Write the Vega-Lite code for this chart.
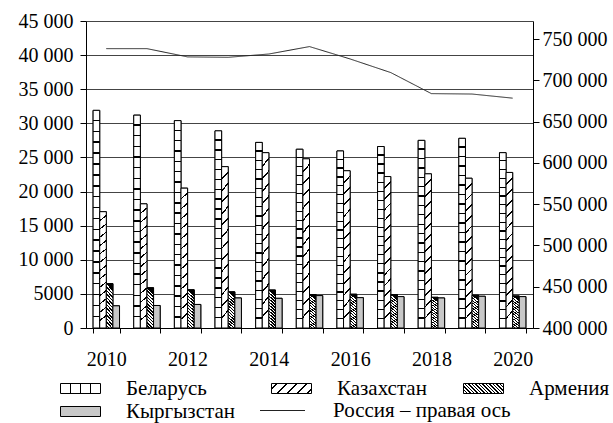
{
  "$schema": "https://vega.github.io/schema/vega-lite/v6.json",
  "width": 447,
  "height": 307,
  "autosize": {"type": "none"},
  "padding": {"left": 86, "top": 21, "right": 80, "bottom": 95},
  "background": "white",
  "params": [
    {"name": "gBel", "value": {"gradient": "linear", "x1": 0, "y1": 0, "x2": 1, "y2": 0, "stops": [
      {"offset": 0, "color": "#fff"}, {"offset": 0.235, "color": "#fff"}, {"offset": 0.235, "color": "#000"}, {"offset": 0.265, "color": "#000"}, {"offset": 0.265, "color": "#fff"},
      {"offset": 0.485, "color": "#fff"}, {"offset": 0.485, "color": "#000"}, {"offset": 0.515, "color": "#000"}, {"offset": 0.515, "color": "#fff"},
      {"offset": 0.735, "color": "#fff"}, {"offset": 0.735, "color": "#000"}, {"offset": 0.765, "color": "#000"}, {"offset": 0.765, "color": "#fff"},
      {"offset": 1, "color": "#fff"}
    ]}},
    {"name": "gKaz", "value": {"gradient": "linear", "x1": 0, "y1": 0, "x2": 1.176, "y2": 0.294, "stops": [
      {"offset": 0, "color": "#fff"},
      {"offset": 0.1, "color": "#fff"}, {"offset": 0.1, "color": "#000"}, {"offset": 0.13, "color": "#000"}, {"offset": 0.13, "color": "#fff"},
      {"offset": 0.3, "color": "#fff"}, {"offset": 0.3, "color": "#000"}, {"offset": 0.33, "color": "#000"}, {"offset": 0.33, "color": "#fff"},
      {"offset": 0.5, "color": "#fff"}, {"offset": 0.5, "color": "#000"}, {"offset": 0.53, "color": "#000"}, {"offset": 0.53, "color": "#fff"},
      {"offset": 0.7, "color": "#fff"}, {"offset": 0.7, "color": "#000"}, {"offset": 0.73, "color": "#000"}, {"offset": 0.73, "color": "#fff"},
      {"offset": 0.9, "color": "#fff"}, {"offset": 0.9, "color": "#000"}, {"offset": 0.93, "color": "#000"}, {"offset": 0.93, "color": "#fff"},
      {"offset": 1, "color": "#fff"}
    ]}},
    {"name": "gArm", "value": {"gradient": "linear", "x1": 0, "y1": 1, "x2": 1.176, "y2": 0.706, "stops": [
      {"offset": 0, "color": "#000"}, {"offset": 0.028, "color": "#000"}, {"offset": 0.028, "color": "#fff"},
      {"offset": 0.07, "color": "#fff"}, {"offset": 0.07, "color": "#000"}, {"offset": 0.098, "color": "#000"}, {"offset": 0.098, "color": "#fff"},
      {"offset": 0.14, "color": "#fff"}, {"offset": 0.14, "color": "#000"}, {"offset": 0.168, "color": "#000"}, {"offset": 0.168, "color": "#fff"},
      {"offset": 0.21, "color": "#fff"}, {"offset": 0.21, "color": "#000"}, {"offset": 0.238, "color": "#000"}, {"offset": 0.238, "color": "#fff"},
      {"offset": 0.28, "color": "#fff"}, {"offset": 0.28, "color": "#000"}, {"offset": 0.308, "color": "#000"}, {"offset": 0.308, "color": "#fff"},
      {"offset": 0.35, "color": "#fff"}, {"offset": 0.35, "color": "#000"}, {"offset": 0.378, "color": "#000"}, {"offset": 0.378, "color": "#fff"},
      {"offset": 0.42, "color": "#fff"}, {"offset": 0.42, "color": "#000"}, {"offset": 0.448, "color": "#000"}, {"offset": 0.448, "color": "#fff"},
      {"offset": 0.49, "color": "#fff"}, {"offset": 0.49, "color": "#000"}, {"offset": 0.518, "color": "#000"}, {"offset": 0.518, "color": "#fff"},
      {"offset": 0.56, "color": "#fff"}, {"offset": 0.56, "color": "#000"}, {"offset": 0.588, "color": "#000"}, {"offset": 0.588, "color": "#fff"},
      {"offset": 0.63, "color": "#fff"}, {"offset": 0.63, "color": "#000"}, {"offset": 0.658, "color": "#000"}, {"offset": 0.658, "color": "#fff"},
      {"offset": 0.7, "color": "#fff"}, {"offset": 0.7, "color": "#000"}, {"offset": 0.728, "color": "#000"}, {"offset": 0.728, "color": "#fff"},
      {"offset": 0.77, "color": "#fff"}, {"offset": 0.77, "color": "#000"}, {"offset": 0.798, "color": "#000"}, {"offset": 0.798, "color": "#fff"},
      {"offset": 0.84, "color": "#fff"}, {"offset": 0.84, "color": "#000"}, {"offset": 0.868, "color": "#000"}, {"offset": 0.868, "color": "#fff"},
      {"offset": 0.91, "color": "#fff"}, {"offset": 0.91, "color": "#000"}, {"offset": 0.938, "color": "#000"}, {"offset": 0.938, "color": "#fff"},
      {"offset": 0.98, "color": "#fff"}, {"offset": 0.98, "color": "#000"}, {"offset": 1, "color": "#000"}
    ]}}
  ],
  "config": {
    "view": {"stroke": null},
    "font": "Liberation Serif",
    "axis": {"labelFont": "Liberation Serif", "labelFontSize": 20, "labelColor": "black", "domainColor": "black", "tickColor": "black", "title": null}
  },
  "datasets": {
    "bars": [
      {"year": 2010, "country": "Беларусь", "value": 31900},
      {"year": 2011, "country": "Беларусь", "value": 31200},
      {"year": 2012, "country": "Беларусь", "value": 30400},
      {"year": 2013, "country": "Беларусь", "value": 28900},
      {"year": 2014, "country": "Беларусь", "value": 27200},
      {"year": 2015, "country": "Беларусь", "value": 26200},
      {"year": 2016, "country": "Беларусь", "value": 25950},
      {"year": 2017, "country": "Беларусь", "value": 26600},
      {"year": 2018, "country": "Беларусь", "value": 27500},
      {"year": 2019, "country": "Беларусь", "value": 27800},
      {"year": 2020, "country": "Беларусь", "value": 25700},
      {"year": 2010, "country": "Казахстан", "value": 17050},
      {"year": 2011, "country": "Казахстан", "value": 18200},
      {"year": 2012, "country": "Казахстан", "value": 20500},
      {"year": 2013, "country": "Казахстан", "value": 23650},
      {"year": 2014, "country": "Казахстан", "value": 25700},
      {"year": 2015, "country": "Казахстан", "value": 24800},
      {"year": 2016, "country": "Казахстан", "value": 23050},
      {"year": 2017, "country": "Казахстан", "value": 22200},
      {"year": 2018, "country": "Казахстан", "value": 22600},
      {"year": 2019, "country": "Казахстан", "value": 21950},
      {"year": 2020, "country": "Казахстан", "value": 22800},
      {"year": 2010, "country": "Армения", "value": 6500},
      {"year": 2011, "country": "Армения", "value": 5900},
      {"year": 2012, "country": "Армения", "value": 5600},
      {"year": 2013, "country": "Армения", "value": 5300},
      {"year": 2014, "country": "Армения", "value": 5570},
      {"year": 2015, "country": "Армения", "value": 4900},
      {"year": 2016, "country": "Армения", "value": 4950},
      {"year": 2017, "country": "Армения", "value": 4900},
      {"year": 2018, "country": "Армения", "value": 4500},
      {"year": 2019, "country": "Армения", "value": 4800},
      {"year": 2020, "country": "Армения", "value": 4700},
      {"year": 2010, "country": "Кыргызстан", "value": 3250},
      {"year": 2011, "country": "Кыргызстан", "value": 3300},
      {"year": 2012, "country": "Кыргызстан", "value": 3450},
      {"year": 2013, "country": "Кыргызстан", "value": 4400},
      {"year": 2014, "country": "Кыргызстан", "value": 4350},
      {"year": 2015, "country": "Кыргызстан", "value": 4750},
      {"year": 2016, "country": "Кыргызстан", "value": 4450},
      {"year": 2017, "country": "Кыргызстан", "value": 4600},
      {"year": 2018, "country": "Кыргызстан", "value": 4400},
      {"year": 2019, "country": "Кыргызстан", "value": 4650},
      {"year": 2020, "country": "Кыргызстан", "value": 4600}
    ],
    "russia": [
      {"year": 2010, "series": "Россия – правая ось", "value": 738500},
      {"year": 2011, "series": "Россия – правая ось", "value": 738500},
      {"year": 2012, "series": "Россия – правая ось", "value": 728500},
      {"year": 2013, "series": "Россия – правая ось", "value": 728000},
      {"year": 2014, "series": "Россия – правая ось", "value": 732000},
      {"year": 2015, "series": "Россия – правая ось", "value": 741000},
      {"year": 2016, "series": "Россия – правая ось", "value": 726000},
      {"year": 2017, "series": "Россия – правая ось", "value": 709500},
      {"year": 2018, "series": "Россия – правая ось", "value": 684000},
      {"year": 2019, "series": "Россия – правая ось", "value": 683500},
      {"year": 2020, "series": "Россия – правая ось", "value": 678500}
    ]
  },
  "layer": [
    {
      "data": {"name": "bars"},
      "mark": {"type": "bar", "stroke": "black", "strokeWidth": 1},
      "encoding": {
        "x": {
          "field": "year", "type": "ordinal",
          "scale": {"paddingInner": 0.35, "paddingOuter": 0.175},
          "axis": {"labelAngle": 0, "labelExpr": "datum.value % 2 === 0 ? datum.label : ''", "tickBand": "extent", "tickSize": 5, "labelPadding": 16, "domainWidth": 1, "grid": false}
        },
        "xOffset": {"field": "country", "type": "nominal", "scale": {"domain": ["Беларусь", "Казахстан", "Армения", "Кыргызстан"], "paddingInner": 0}},
        "y": {
          "field": "value", "type": "quantitative",
          "scale": {"domain": [0, 45000], "nice": false},
          "axis": {"values": [0, 5000, 10000, 15000, 20000, 25000, 30000, 35000, 40000, 45000], "grid": true, "gridColor": "#444", "gridWidth": 1, "tickSize": 6, "labelPadding": 7, "domainWidth": 1, "labelExpr": "datum.value >= 10000 ? replace(format(datum.value, ','), ',', ' ') : format(datum.value, 'd')"}
        },
        "fill": {
          "field": "country", "type": "nominal",
          "scale": {
            "domain": ["Беларусь", "Казахстан", "Армения", "Кыргызстан"],
            "range": [{"expr": "gBel"}, {"expr": "gKaz"}, {"expr": "gArm"}, "#c8c8c8"]
          },
          "legend": {
            "orient": "none", "legendX": -16, "legendY": 357, "padding": 0,
            "direction": "horizontal", "columns": 3, "gridAlign": "none", "columnPadding": 34, "rowPadding": 1,
            "title": null,
            "symbolSize": 400, "symbolType": "M-2,-0.5H2V0.5H-2Z",
            "symbolStrokeColor": "black", "symbolStrokeWidth": 1, "symbolOpacity": 1,
            "labelFont": "Liberation Serif", "labelFontSize": 21, "labelColor": "black", "labelOffset": 35, "labelLimit": 300
          }
        }
      }
    },
    {
      "data": {"name": "bars"},
      "mark": {"type": "bar", "stroke": "black", "strokeWidth": 1},
      "encoding": {
        "x": {"field": "year", "type": "ordinal"},
        "xOffset": {"field": "country", "type": "nominal"},
        "y": {"field": "value", "type": "quantitative", "scale": {"domain": [0, 45000], "nice": false}, "axis": null},
        "fill": {
          "condition": [
            {"test": "datum.country === 'Беларусь'", "value": {"gradient": "linear", "x1": 0, "y1": 0, "x2": 0, "y2": 1, "stops": [
              {"offset": 0, "color": "#fff"},
              {"offset": 0.043, "color": "#fff"}, {"offset": 0.043, "color": "#000"}, {"offset": 0.05, "color": "#000"}, {"offset": 0.05, "color": "#fff"},
              {"offset": 0.093, "color": "#fff"}, {"offset": 0.093, "color": "#000"}, {"offset": 0.1, "color": "#000"}, {"offset": 0.1, "color": "#fff"},
              {"offset": 0.143, "color": "#fff"}, {"offset": 0.143, "color": "#000"}, {"offset": 0.15, "color": "#000"}, {"offset": 0.15, "color": "#fff"},
              {"offset": 0.193, "color": "#fff"}, {"offset": 0.193, "color": "#000"}, {"offset": 0.2, "color": "#000"}, {"offset": 0.2, "color": "#fff"},
              {"offset": 0.243, "color": "#fff"}, {"offset": 0.243, "color": "#000"}, {"offset": 0.25, "color": "#000"}, {"offset": 0.25, "color": "#fff"},
              {"offset": 0.293, "color": "#fff"}, {"offset": 0.293, "color": "#000"}, {"offset": 0.3, "color": "#000"}, {"offset": 0.3, "color": "#fff"},
              {"offset": 0.343, "color": "#fff"}, {"offset": 0.343, "color": "#000"}, {"offset": 0.35, "color": "#000"}, {"offset": 0.35, "color": "#fff"},
              {"offset": 0.393, "color": "#fff"}, {"offset": 0.393, "color": "#000"}, {"offset": 0.4, "color": "#000"}, {"offset": 0.4, "color": "#fff"},
              {"offset": 0.443, "color": "#fff"}, {"offset": 0.443, "color": "#000"}, {"offset": 0.45, "color": "#000"}, {"offset": 0.45, "color": "#fff"},
              {"offset": 0.493, "color": "#fff"}, {"offset": 0.493, "color": "#000"}, {"offset": 0.5, "color": "#000"}, {"offset": 0.5, "color": "#fff"},
              {"offset": 0.543, "color": "#fff"}, {"offset": 0.543, "color": "#000"}, {"offset": 0.55, "color": "#000"}, {"offset": 0.55, "color": "#fff"},
              {"offset": 0.593, "color": "#fff"}, {"offset": 0.593, "color": "#000"}, {"offset": 0.6, "color": "#000"}, {"offset": 0.6, "color": "#fff"},
              {"offset": 0.643, "color": "#fff"}, {"offset": 0.643, "color": "#000"}, {"offset": 0.65, "color": "#000"}, {"offset": 0.65, "color": "#fff"},
              {"offset": 0.693, "color": "#fff"}, {"offset": 0.693, "color": "#000"}, {"offset": 0.7, "color": "#000"}, {"offset": 0.7, "color": "#fff"},
              {"offset": 0.743, "color": "#fff"}, {"offset": 0.743, "color": "#000"}, {"offset": 0.75, "color": "#000"}, {"offset": 0.75, "color": "#fff"},
              {"offset": 0.793, "color": "#fff"}, {"offset": 0.793, "color": "#000"}, {"offset": 0.8, "color": "#000"}, {"offset": 0.8, "color": "#fff"},
              {"offset": 0.843, "color": "#fff"}, {"offset": 0.843, "color": "#000"}, {"offset": 0.85, "color": "#000"}, {"offset": 0.85, "color": "#fff"},
              {"offset": 0.893, "color": "#fff"}, {"offset": 0.893, "color": "#000"}, {"offset": 0.9, "color": "#000"}, {"offset": 0.9, "color": "#fff"},
              {"offset": 0.943, "color": "#fff"}, {"offset": 0.943, "color": "#000"}, {"offset": 0.95, "color": "#000"}, {"offset": 0.95, "color": "#fff"},
              {"offset": 1, "color": "#fff"}
            ]}},
            {"test": "datum.country === 'Казахстан'", "value": {"gradient": "linear", "x1": 0, "y1": 0, "x2": 0.045, "y2": 1, "stops": [
              {"offset": 0, "color": "#fff"},
              {"offset": 0.0714, "color": "#fff"}, {"offset": 0.0714, "color": "#000"}, {"offset": 0.0834, "color": "#000"}, {"offset": 0.0834, "color": "#fff"},
              {"offset": 0.1429, "color": "#fff"}, {"offset": 0.1429, "color": "#000"}, {"offset": 0.1549, "color": "#000"}, {"offset": 0.1549, "color": "#fff"},
              {"offset": 0.2143, "color": "#fff"}, {"offset": 0.2143, "color": "#000"}, {"offset": 0.2263, "color": "#000"}, {"offset": 0.2263, "color": "#fff"},
              {"offset": 0.2857, "color": "#fff"}, {"offset": 0.2857, "color": "#000"}, {"offset": 0.2977, "color": "#000"}, {"offset": 0.2977, "color": "#fff"},
              {"offset": 0.3571, "color": "#fff"}, {"offset": 0.3571, "color": "#000"}, {"offset": 0.3691, "color": "#000"}, {"offset": 0.3691, "color": "#fff"},
              {"offset": 0.4286, "color": "#fff"}, {"offset": 0.4286, "color": "#000"}, {"offset": 0.4406, "color": "#000"}, {"offset": 0.4406, "color": "#fff"},
              {"offset": 0.5, "color": "#fff"}, {"offset": 0.5, "color": "#000"}, {"offset": 0.512, "color": "#000"}, {"offset": 0.512, "color": "#fff"},
              {"offset": 0.5714, "color": "#fff"}, {"offset": 0.5714, "color": "#000"}, {"offset": 0.5834, "color": "#000"}, {"offset": 0.5834, "color": "#fff"},
              {"offset": 0.6429, "color": "#fff"}, {"offset": 0.6429, "color": "#000"}, {"offset": 0.6549, "color": "#000"}, {"offset": 0.6549, "color": "#fff"},
              {"offset": 0.7143, "color": "#fff"}, {"offset": 0.7143, "color": "#000"}, {"offset": 0.7263, "color": "#000"}, {"offset": 0.7263, "color": "#fff"},
              {"offset": 0.7857, "color": "#fff"}, {"offset": 0.7857, "color": "#000"}, {"offset": 0.7977, "color": "#000"}, {"offset": 0.7977, "color": "#fff"},
              {"offset": 0.8571, "color": "#fff"}, {"offset": 0.8571, "color": "#000"}, {"offset": 0.8691, "color": "#000"}, {"offset": 0.8691, "color": "#fff"},
              {"offset": 0.9286, "color": "#fff"}, {"offset": 0.9286, "color": "#000"}, {"offset": 0.9406, "color": "#000"}, {"offset": 0.9406, "color": "#fff"},
              {"offset": 1, "color": "#fff"}
            ]}},
            {"test": "datum.country === 'Армения'", "value": {"gradient": "linear", "x1": 0.16, "y1": 0, "x2": 0, "y2": 1, "stops": [
              {"offset": 0, "color": "#000"}, {"offset": 0.035, "color": "#000"}, {"offset": 0.035, "color": "#fff"},
              {"offset": 0.0769, "color": "#fff"}, {"offset": 0.0769, "color": "#000"}, {"offset": 0.1119, "color": "#000"}, {"offset": 0.1119, "color": "#fff"},
              {"offset": 0.1538, "color": "#fff"}, {"offset": 0.1538, "color": "#000"}, {"offset": 0.1888, "color": "#000"}, {"offset": 0.1888, "color": "#fff"},
              {"offset": 0.2308, "color": "#fff"}, {"offset": 0.2308, "color": "#000"}, {"offset": 0.2658, "color": "#000"}, {"offset": 0.2658, "color": "#fff"},
              {"offset": 0.3077, "color": "#fff"}, {"offset": 0.3077, "color": "#000"}, {"offset": 0.3427, "color": "#000"}, {"offset": 0.3427, "color": "#fff"},
              {"offset": 0.3846, "color": "#fff"}, {"offset": 0.3846, "color": "#000"}, {"offset": 0.4196, "color": "#000"}, {"offset": 0.4196, "color": "#fff"},
              {"offset": 0.4615, "color": "#fff"}, {"offset": 0.4615, "color": "#000"}, {"offset": 0.4965, "color": "#000"}, {"offset": 0.4965, "color": "#fff"},
              {"offset": 0.5385, "color": "#fff"}, {"offset": 0.5385, "color": "#000"}, {"offset": 0.5735, "color": "#000"}, {"offset": 0.5735, "color": "#fff"},
              {"offset": 0.6154, "color": "#fff"}, {"offset": 0.6154, "color": "#000"}, {"offset": 0.6504, "color": "#000"}, {"offset": 0.6504, "color": "#fff"},
              {"offset": 0.6923, "color": "#fff"}, {"offset": 0.6923, "color": "#000"}, {"offset": 0.7273, "color": "#000"}, {"offset": 0.7273, "color": "#fff"},
              {"offset": 0.7692, "color": "#fff"}, {"offset": 0.7692, "color": "#000"}, {"offset": 0.8042, "color": "#000"}, {"offset": 0.8042, "color": "#fff"},
              {"offset": 0.8462, "color": "#fff"}, {"offset": 0.8462, "color": "#000"}, {"offset": 0.8812, "color": "#000"}, {"offset": 0.8812, "color": "#fff"},
              {"offset": 0.9231, "color": "#fff"}, {"offset": 0.9231, "color": "#000"}, {"offset": 0.9581, "color": "#000"}, {"offset": 0.9581, "color": "#fff"},
              {"offset": 1, "color": "#fff"}
            ]}}
          ],
          "value": "#c8c8c8"
        }
      }
    },
    {
      "data": {"name": "russia"},
      "mark": {"type": "line", "color": "#222", "strokeWidth": 1},
      "encoding": {
        "x": {"field": "year", "type": "ordinal"},
        "y": {
          "field": "value", "type": "quantitative",
          "scale": {"domain": [400000, 772000], "nice": false, "zero": false},
          "axis": {"orient": "right", "values": [400000, 450000, 500000, 550000, 600000, 650000, 700000, 750000], "grid": false, "tickSize": 6, "labelPadding": 3, "domainWidth": 1, "labelExpr": "replace(format(datum.value, ','), ',', ' ')"}
        },
        "strokeDash": {
          "field": "series", "type": "nominal",
          "scale": {"range": [[1, 0]]},
          "legend": {
            "orient": "none", "legendX": 186, "legendY": 379, "padding": 0,
            "title": null, "symbolType": "M-2.25,0H2.25", "symbolSize": 400,
            "symbolStrokeColor": "#222", "symbolStrokeWidth": 1, "symbolFillColor": "transparent",
            "labelFont": "Liberation Serif", "labelFontSize": 21, "labelColor": "black", "labelOffset": 40, "labelLimit": 300
          }
        }
      }
    }
  ],
  "resolve": {"scale": {"y": "independent"}}
}
